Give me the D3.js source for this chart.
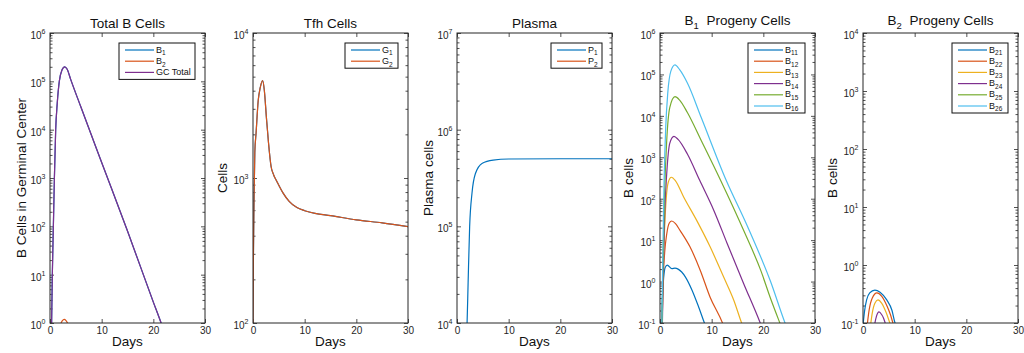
<!DOCTYPE html>
<html>
<head>
<meta charset="utf-8">
<script src="https://cdn.jsdelivr.net/npm/d3@7"></script>
<style>
body { margin: 0; background: #fff; }
svg { display: block; font-family: "Liberation Sans", Arial, Helvetica, sans-serif; }
</style>
</head>
<body>
<svg id="chart" width="1024" height="353"></svg>
<script>
// matlab default line colours
var blue = '#0072BD', orange = '#D95319', yellow = '#EDB120',
    purple = '#7E2F8E', green = '#77AC30', cyan = '#4DBEEE';

var xTicks = [0, 10, 20, 30];

// Total B cells  [day, cells]
var gcTotal = [[0.3,0.8],[0.45,10],[0.65,100],[0.85,1000],[1.1,1e4],[1.4,3.5e4],[1.8,1e5],[2.3,1.7e5],[2.85,2e5],[3.3,1.8e5],[4,1.1e5],[6,2.9e4],[10,2.1e3],[15,80],[20,2.7],[21.5,1],[22,0.7]];
var b1Total = [[0.3,0.8],[0.45,10],[0.65,100],[0.85,1000],[1.1,1e4],[1.4,3.5e4],[1.8,1e5],[2.3,1.7e5],[2.85,2e5],[3.3,1.8e5],[4,1.1e5],[6,2.9e4],[10,2.1e3],[15,80],[20,2.7],[21.5,1],[22,0.7]];
var b2Total = [[2.05,0.95],[2.4,1.12],[2.75,1.19],[3.1,1.12],[3.5,0.95]];

// Tfh cells
var g1 = [[0,100],[0.06,245],[0.2,700],[0.35,1500],[0.6,2050],[1.0,3400],[1.4,4200],[1.87,4700],[2.2,4000],[2.6,2600],[3.0,1750],[3.5,1200],[4.0,1050],[4.6,950],[5.8,790],[7.0,690],[8.5,625],[10,595],[12,570],[15,550],[20,515],[25,490],[30,462]];
var g2 = [[0,100],[0.06,245],[0.2,700],[0.35,1500],[0.6,2050],[1.0,3400],[1.4,4200],[1.87,4700],[2.2,4000],[2.6,2600],[3.0,1750],[3.5,1200],[4.0,1050],[4.6,950],[5.8,790],[7.0,690],[8.5,625],[10,595],[12,570],[15,550],[20,515],[25,490],[30,462]];

// Plasma cells
var p1 = [[1.85,8000],[1.95,1e4],[2.15,2.6e4],[2.45,1e5],[2.9,2.2e5],[3.55,3.5e5],[4.9,4.5e5],[7,4.85e5],[10,4.97e5],[20,5e5],[30,5e5]];
var p2 = []; // below the axis range

// B1 progeny
var b11 = [[0.25,0.08],[0.45,0.4],[0.7,1.2],[1.0,2.2],[1.4,2.5],[2.3,2.05],[2.9,2.1],[3.5,2.0],[4.2,1.7],[4.9,1.3],[6.2,0.62],[7.5,0.24],[8.6,0.1],[8.9,0.08]];
var b12 = [[0.4,0.08],[0.6,1],[0.9,5],[1.3,14],[1.8,26],[2.27,29],[3.0,25],[3.9,17],[5.8,6.9],[7.8,1.86],[9.7,0.42],[12.1,0.1],[12.4,0.08]];
var b13 = [[0.4,0.08],[0.6,1.5],[0.9,20],[1.2,100],[1.6,250],[2.2,330],[3.0,270],[4.55,112],[7.1,30],[9.7,6.9],[12.3,1.3],[14.3,0.35],[15.8,0.1],[16.1,0.08]];
var b14 = [[0.45,0.08],[0.65,2],[0.9,40],[1.3,400],[1.9,2200],[2.7,3200],[3.5,2700],[5.3,1200],[7.66,282],[10.4,53],[13.0,8.3],[16.2,0.89],[19.4,0.1],[19.7,0.08]];
var b15 = [[0.4,0.08],[0.6,3],[0.9,150],[1.3,2500],[1.9,1.6e4],[2.9,2.9e4],[3.8,2.4e4],[5.3,1.2e4],[8,2500],[11.7,282],[16.2,17],[19.5,1.86],[21.4,0.39],[23.2,0.1],[23.5,0.08]];
var b16 = [[0.35,0.08],[0.55,5],[0.8,300],[1.1,5000],[1.5,3.5e4],[2.1,1.2e5],[2.9,1.7e5],[3.8,1.3e5],[5.3,6.2e4],[8,9e3],[12.7,300],[16.9,22],[21.4,1.0],[24.2,0.1],[24.5,0.08]];

// B2 progeny
var b21 = [[0,0.09],[0.3,0.16],[0.7,0.25],[1.3,0.33],[2.3,0.37],[3.3,0.34],[4.6,0.25],[5.6,0.166],[6.2,0.1],[6.4,0.09]];
var b22 = [[0.8,0.09],[1.2,0.17],[1.8,0.27],[2.7,0.33],[3.6,0.29],[4.6,0.2],[5.3,0.14],[5.8,0.1],[6.0,0.09]];
var b23 = [[1.45,0.09],[1.8,0.15],[2.3,0.22],[2.9,0.25],[3.6,0.22],[4.5,0.15],[5.2,0.1],[5.4,0.09]];
var b24 = [[2.3,0.1],[2.6,0.13],[3.1,0.155],[3.6,0.14],[4.0,0.12],[4.3,0.1]];
var b25 = [];
var b26 = [];

var panels = [
  { left: 50, title: [['Total B Cells']], titleY: 28, ylabel: 'B Cells in Germinal Center', ylabelX: -24,
    ymin: 1, ymax: 1e6, legendW: 76,
    series: [[b1Total, blue, 'B', '1'], [b2Total, orange, 'B', '2'], [gcTotal, purple, 'GC Total', '']] },
  { left: 253, title: [['Tfh Cells']], titleY: 28, ylabel: 'Cells', ylabelX: -26,
    ymin: 1e2, ymax: 1e4, legendW: 53,
    series: [[g1, blue, 'G', '1'], [g2, orange, 'G', '2']] },
  { left: 457, title: [['Plasma']], titleY: 28, ylabel: 'Plasma cells', ylabelX: -24,
    ymin: 1e4, ymax: 1e7, legendW: 51,
    series: [[p1, blue, 'P', '1'], [p2, orange, 'P', '2']] },
  { left: 660, title: [['B'], ['1', 'sub'], ['\u00a0\u00a0Progeny Cells']], titleY: 25, ylabel: 'B cells', ylabelX: -27,
    ymin: 0.1, ymax: 1e6, legendW: 57,
    series: [[b11, blue, 'B', '11'], [b12, orange, 'B', '12'], [b13, yellow, 'B', '13'],
             [b14, purple, 'B', '14'], [b15, green, 'B', '15'], [b16, cyan, 'B', '16']] },
  { left: 863, title: [['B'], ['2', 'sub'], ['\u00a0\u00a0Progeny Cells']], titleY: 25, ylabel: 'B cells', ylabelX: -26.5,
    ymin: 0.1, ymax: 1e4, legendW: 56,
    series: [[b21, blue, 'B', '21'], [b22, orange, 'B', '22'], [b23, yellow, 'B', '23'],
             [b24, purple, 'B', '24'], [b25, green, 'B', '25'], [b26, cyan, 'B', '26']] }
];

var svg = d3.select('#chart');
var W = 155, plotTop = 33, H = 290;
var axisCol = '#262626', font = '"Liberation Sans", Arial, Helvetica, sans-serif';
var defs = svg.append('defs');

panels.forEach(function(p, i) {
  var g = svg.append('g').attr('transform', 'translate(' + p.left + ',' + plotTop + ')');
  var x = d3.scaleLinear().domain([0, 30]).range([0, W]);
  var y = d3.scaleLog().domain([p.ymin, p.ymax]).range([H, 0]);

  var lo = Math.round(Math.log10(p.ymin)), hi = Math.round(Math.log10(p.ymax));
  var major = d3.range(lo, hi + 1).map(function(k) { return Math.pow(10, k); });
  var minor = [];
  d3.range(lo, hi).forEach(function(k) {
    for (var m = 2; m <= 9; m++) minor.push(m * Math.pow(10, k));
  });

  // ticks, all pointing inward
  g.append('g').call(d3.axisLeft(y).tickValues(major).tickSize(-4).tickFormat(''));
  g.append('g').call(d3.axisLeft(y).tickValues(minor).tickSize(-2.5).tickFormat(''));
  g.append('g').attr('transform', 'translate(' + W + ',0)')
    .call(d3.axisRight(y).tickValues(major).tickSize(-4).tickFormat(''));
  g.append('g').attr('transform', 'translate(' + W + ',0)')
    .call(d3.axisRight(y).tickValues(minor).tickSize(-2.5).tickFormat(''));
  g.append('g').call(d3.axisTop(x).tickValues(xTicks).tickSize(-4).tickFormat(''));
  var xa = g.append('g').attr('transform', 'translate(0,' + H + ')')
    .call(d3.axisBottom(x).tickValues(xTicks).tickSize(-4).tickPadding(3.5).tickFormat(d3.format('d')));
  xa.attr('font-family', font).attr('font-size', 10);
  xa.selectAll('text').attr('fill', axisCol);
  g.selectAll('.domain').remove();
  g.selectAll('.tick line').attr('stroke', axisCol).attr('stroke-width', 0.8);

  // 10^k labels
  g.selectAll('.ylab').data(major).enter().append('text')
    .attr('class', 'ylab')
    .attr('x', -4.5).attr('y', function(d) { return y(d) + 6; })
    .attr('text-anchor', 'end').attr('font-size', 10).attr('fill', axisCol)
    .each(function(d) {
      var t = d3.select(this);
      t.append('tspan').text('10');
      t.append('tspan').attr('dy', -5).attr('font-size', 7).text(Math.round(Math.log10(d)));
    });

  // curves
  defs.append('clipPath').attr('id', 'clip' + i)
    .append('rect').attr('width', W).attr('height', H);
  var line = d3.line()
    .x(function(d) { return x(d[0]); })
    .y(function(d) { return y(d[1]); })
    .curve(d3.curveMonotoneX);
  g.append('g').attr('clip-path', 'url(#clip' + i + ')')
    .selectAll('path').data(p.series.filter(function(s) { return s[0].length; }))
    .enter().append('path')
    .attr('d', function(s) { return line(s[0]); })
    .attr('fill', 'none').attr('stroke', function(s) { return s[1]; })
    .attr('stroke-width', 1.2).attr('stroke-linejoin', 'round');

  // box
  g.append('rect').attr('width', W).attr('height', H)
    .attr('fill', 'none').attr('stroke', axisCol).attr('stroke-width', 1);

  // title
  var tt = g.append('text').attr('x', W / 2).attr('y', p.titleY - plotTop)
    .attr('text-anchor', 'middle').attr('font-size', 13.5).attr('fill', '#111');
  p.title.forEach(function(part, k) {
    var ts = tt.append('tspan').text(part[0]);
    if (part[1] == 'sub') ts.attr('font-size', 9.5).attr('dy', 3.5);
    else if (k > 0 && p.title[k - 1][1] == 'sub') ts.attr('dy', -3.5);
  });

  // axis labels
  g.append('text').attr('x', W / 2).attr('y', 346 - plotTop)
    .attr('text-anchor', 'middle').attr('font-size', 13.5).attr('fill', '#111').text('Days');
  g.append('text')
    .attr('transform', 'translate(' + p.ylabelX + ',' + (H / 2) + ') rotate(-90)')
    .attr('text-anchor', 'middle').attr('font-size', 13.5).attr('fill', '#111').text(p.ylabel);

  // legend
  var rowH = 11.2, n = p.series.length;
  var lh = 7 + (n - 1) * rowH + 7;
  var lg = g.append('g').attr('transform', 'translate(' + (W - 10 - p.legendW) + ',10)');
  lg.append('rect').attr('width', p.legendW).attr('height', lh)
    .attr('fill', '#fff').attr('stroke', '#111').attr('stroke-width', 1);
  var rows = lg.selectAll('.row').data(p.series).enter().append('g')
    .attr('transform', function(s, k) { return 'translate(6,' + (7 + k * rowH) + ')'; });
  rows.append('line').attr('x1', 0).attr('x2', 29)
    .attr('stroke', function(s) { return s[1]; }).attr('stroke-width', 1.2);
  rows.append('text').attr('x', 31).attr('y', 2.5)
    .attr('font-size', 9).attr('fill', '#111')
    .each(function(s) {
      var t = d3.select(this);
      t.append('tspan').text(s[2]);
      if (s[3]) t.append('tspan').attr('dy', 2.8).attr('font-size', 6.5).text(s[3]);
    });
});
</script>
</body>
</html>
